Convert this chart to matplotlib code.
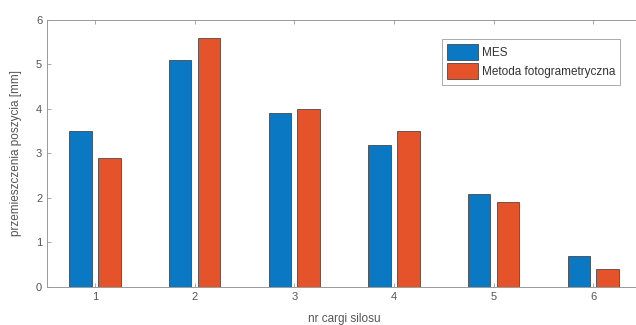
import matplotlib

matplotlib.use("Agg")

import matplotlib.pyplot as plt
import numpy as np

plt.rcParams["font.family"] = ["Liberation Sans", "DejaVu Sans"]

cargi = [1, 2, 3, 4, 5, 6]
mes = [3.5, 5.1, 3.9, 3.2, 2.1, 0.7]
foto = [2.9, 5.6, 4.0, 3.5, 1.9, 0.4]
labels = ["MES", "Metoda fotogrametryczna"]

BLUE = "#0b78c4"
RED = "#e5532b"
GRAY = "#555555"

fig = plt.figure(figsize=(6.36, 3.25), dpi=100)
ax = fig.add_axes([0.074, 0.117, 0.934, 0.8215])

x = np.array(cargi)
w = 0.225
ax.bar(x - 0.145, mes, width=w, color=BLUE, edgecolor="#333333", linewidth=0.5, label=labels[0])
ax.bar(x + 0.145, foto, width=w, color=RED, edgecolor="#333333", linewidth=0.5, label=labels[1])

ax.set_xlim(0.52, 6.48)
ax.set_ylim(0, 6)
ax.set_xticks(cargi)
ax.set_yticks(range(0, 7))
ax.tick_params(direction="in", length=3, width=0.6, colors="#999999",
               labelcolor=GRAY, labelsize=8, top=True, right=True)
for s in ax.spines.values():
    s.set_color("#999999")
    s.set_linewidth(0.7)

ax.set_xlabel("nr cargi silosu", fontsize=8.5, color=GRAY, labelpad=8)
ax.set_ylabel("przemieszczenia poszycia [mm]", fontsize=8.5, color=GRAY, labelpad=10)

leg = ax.legend(loc="upper left", bbox_to_anchor=(0.655, 0.952), fontsize=8.5,
                handlelength=2.6, handleheight=1.7, handletextpad=0.3,
                borderpad=0.45, labelspacing=0.3, fancybox=False, framealpha=1)
leg.get_frame().set_edgecolor("#aaaaaa")
leg.get_frame().set_linewidth(0.7)
for t in leg.get_texts():
    t.set_color("#333333")

fig.savefig("out.png", dpi=100)
plt.close(fig)
